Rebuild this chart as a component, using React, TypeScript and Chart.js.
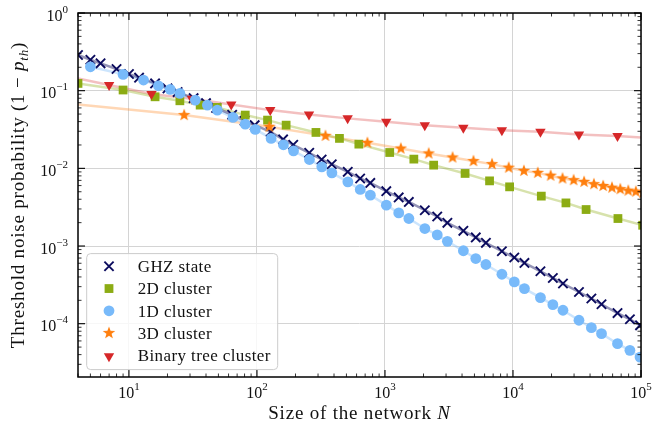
import React, { useEffect, useRef } from 'react';
import { Chart, registerables } from 'chart.js';
Chart.register(...registerables);

// ---------- data ----------
const ghzN = [4, 5, 6, 8, 10, 12, 16, 20, 24, 32, 40, 48, 64, 80, 96, 128, 160, 192, 256, 320, 384, 512, 640, 768, 1024, 1280, 1536, 2048, 2560, 3072, 4096, 5120, 6144, 8192, 10240, 12288, 16384, 20480, 24576, 32768, 40960, 49152, 65536, 81920, 98304];
const ghzP = [0.288, 0.25, 0.225, 0.19, 0.164, 0.147, 0.124, 0.107, 0.096, 0.08, 0.069, 0.06, 0.049, 0.041, 0.036, 0.0295, 0.0236, 0.0201, 0.01584, 0.013, 0.0113, 0.00901, 0.00741, 0.0065, 0.00508, 0.00422, 0.0037, 0.00289, 0.0024, 0.00199, 0.00157, 0.00129, 0.0011, 0.000857, 0.000711, 0.000606, 0.000473, 0.000388, 0.000329, 0.000256, 0.000211, 0.000178, 0.000137, 0.000114, 0.0000953];

const twoDN = [4, 9, 16, 25, 36, 49, 81, 121, 169, 289, 441, 625, 1089, 1681, 2401, 4225, 6561, 9409, 16641, 25921, 37249, 66049, 103041];
const twoDP = [0.124, 0.102, 0.0834, 0.0741, 0.0652, 0.0609, 0.0485, 0.0418, 0.036, 0.029, 0.0243, 0.0205, 0.016, 0.01315, 0.011, 0.0086, 0.0069, 0.00578, 0.00439, 0.00359, 0.00295, 0.00226, 0.00185];

const oneDN = [5, 9, 13, 17, 21, 25, 33, 41, 49, 65, 81, 97, 129, 161, 193, 257, 321, 385, 513, 641, 769, 1025, 1281, 1537, 2049, 2561, 3073, 4097, 5121, 6145, 8193, 10241, 12289, 16385, 20481, 24577, 32769, 40961, 49153, 65537, 81921, 98305];
const oneDP = [0.203, 0.162, 0.137, 0.1156, 0.104, 0.0923, 0.0757, 0.0652, 0.0562, 0.0453, 0.0371, 0.0317, 0.0243, 0.0201, 0.0168, 0.013, 0.01045, 0.00875, 0.0067, 0.00535, 0.00452, 0.00336, 0.00267, 0.00226, 0.00168, 0.00139, 0.00115, 0.00087, 0.00069, 0.000578, 0.000433, 0.000345, 0.000283, 0.000217, 0.000176, 0.000149, 0.0001107, 0.000089, 0.0000745, 0.0000553, 0.0000454, 0.0000372];

const threeDN = [27, 125, 343, 729, 1331, 2197, 3375, 4913, 6859, 9261, 12167, 15625, 19683, 24389, 29791, 35937, 42875, 50653, 59319, 68921, 79507, 91125, 103823];
const threeDP = [0.0485, 0.0343, 0.0262, 0.0213, 0.018, 0.01555, 0.0138, 0.0124, 0.01133, 0.0102, 0.00929, 0.00875, 0.00805, 0.00741, 0.00705, 0.0067, 0.00626, 0.00593, 0.00564, 0.0054, 0.00516, 0.00501, 0.00483];
const threeDFitStartN = [4];
const threeDFitStartP = [0.0666];

const treeN = [7, 15, 31, 63, 127, 255, 511, 1023, 2047, 4095, 8191, 16383, 32767, 65535];
const treeP = [0.118, 0.0904, 0.0787, 0.0662, 0.0562, 0.0495, 0.044, 0.0397, 0.036, 0.0333, 0.031, 0.0295, 0.0273, 0.026];
const treeFitStartN = [4];
const treeFitStartP = [0.144];
const treeFitEndN = [100000];
const treeFitEndP = [0.0249];

const seriesLabels = ['GHZ state', '2D cluster', '1D cluster', '3D cluster', 'Binary tree cluster'];

const X_MIN = 4;
const X_MAX = 1e5;
const Y_MIN = 2.06e-5;
const Y_MAX = 1;
const xMajor = [10, 100, 1000, 10000, 100000];
const xMajorExp = ['1', '2', '3', '4', '5'];
const yMajor = [1, 0.1, 0.01, 0.001, 0.0001];
const yMajorExp = ['0', '\u22121', '\u22122', '\u22123', '\u22124'];

const xTitle = 'Size of the network ';
const xTitleVar = 'N';
const yTitle = 'Threshold noise probability (1 \u2212 ';
const yTitleVar = 'p';
const yTitleSub = 'th';
const yTitleEnd = ')';

// ---------- styles ----------
const SERIF = '"Liberation Serif", "Times New Roman", serif';
const C_GHZ = '#0b0b5e';
const C_2D = '#8cac14';
const C_1D = '#78bafa';
const C_3D = '#ff7f0e';
const C_TREE = '#d62728';

function pts(n: number[], p: number[]) {
  return n.map((x, i) => ({ x, y: p[i] }));
}

function makeStar(color: string, outer: number, inner: number) {
  const size = Math.ceil(outer * 2) + 2;
  const c = document.createElement('canvas');
  c.width = size;
  c.height = size;
  const g = c.getContext('2d')!;
  g.translate(size / 2, size / 2);
  g.beginPath();
  for (let i = 0; i < 10; i++) {
    const r = i % 2 === 0 ? outer : inner;
    const a = -Math.PI / 2 + (i * Math.PI) / 5;
    g.lineTo(r * Math.cos(a), r * Math.sin(a));
  }
  g.closePath();
  g.fillStyle = color;
  g.fill();
  return c;
}

type Run = { t: string; font: string; dy?: number };

function drawRuns(ctx: CanvasRenderingContext2D, runs: Run[], x: number, y: number, align: 'left' | 'center' | 'right', spacing = '0px') {
  (ctx as any).letterSpacing = spacing;
  ctx.textAlign = 'left';
  ctx.textBaseline = 'alphabetic';
  let total = 0;
  const widths = runs.map((r) => {
    ctx.font = r.font;
    const w = ctx.measureText(r.t).width;
    total += w;
    return w;
  });
  let cx = align === 'left' ? x : align === 'center' ? x - total / 2 : x - total;
  runs.forEach((r, i) => {
    ctx.font = r.font;
    ctx.fillText(r.t, cx, y + (r.dy || 0));
    cx += widths[i];
  });
  (ctx as any).letterSpacing = '0px';
}

function makeDecor(star: HTMLCanvasElement) {
  return {
    id: 'decor',
    afterDraw(chart: any) {
      const ctx: CanvasRenderingContext2D = chart.ctx;
      const a = chart.chartArea;
      const xs = chart.scales.x;
      const ys = chart.scales.y;
      ctx.save();
      ctx.strokeStyle = '#000';
      ctx.fillStyle = '#111';
      const line = (x1: number, y1: number, x2: number, y2: number, w: number) => {
        ctx.lineWidth = w;
        ctx.beginPath();
        ctx.moveTo(x1, y1);
        ctx.lineTo(x2, y2);
        ctx.stroke();
      };
      // x ticks (inward, bottom & top)
      for (let d = 0; d <= 5; d++) {
        for (let m = 1; m <= 9; m++) {
          const v = m * Math.pow(10, d);
          if (v < X_MIN || v > X_MAX * 1.0001) continue;
          const px = xs.getPixelForValue(v);
          const len = m === 1 ? 7 : 3.5;
          const w = m === 1 ? 1.1 : 0.8;
          line(px, a.bottom, px, a.bottom - len, w);
          line(px, a.top, px, a.top + len, w);
        }
      }
      // y ticks (inward, left & right)
      for (let d = -5; d <= 0; d++) {
        for (let m = 1; m <= 9; m++) {
          const v = m * Math.pow(10, d);
          if (v < Y_MIN || v > Y_MAX * 1.0001) continue;
          const py = ys.getPixelForValue(v);
          const len = m === 1 ? 7 : 3.5;
          const w = m === 1 ? 1.1 : 0.8;
          line(a.left, py, a.left + len, py, w);
          line(a.right, py, a.right - len, py, w);
        }
      }
      // frame
      ctx.lineWidth = 1.5;
      ctx.strokeRect(a.left, a.top, a.right - a.left, a.bottom - a.top);

      // tick labels
      const big = `16px ${SERIF}`;
      const small = `11px ${SERIF}`;
      xMajor.forEach((v, i) => {
        const px = xs.getPixelForValue(v);
        drawRuns(ctx, [{ t: '10', font: big }, { t: xMajorExp[i], font: small, dy: -8 }], px, a.bottom + 20.5, 'center');
      });
      yMajor.forEach((v, i) => {
        const py = ys.getPixelForValue(v);
        drawRuns(ctx, [{ t: '10', font: big }, { t: yMajorExp[i], font: small, dy: -8 }], a.left - 10, py + 7.5, 'right');
      });

      // axis titles
      const tf = `19px ${SERIF}`;
      const tfi = `italic 19px ${SERIF}`;
      drawRuns(ctx, [{ t: xTitle, font: tf }, { t: xTitleVar, font: tfi }], (a.left + a.right) / 2, a.bottom + 41.5, 'center', '0.8px');
      ctx.save();
      ctx.translate(24, (a.top + a.bottom) / 2);
      ctx.rotate(-Math.PI / 2);
      drawRuns(ctx, [
        { t: yTitle, font: tf },
        { t: yTitleVar, font: tfi },
        { t: yTitleSub, font: `italic 13px ${SERIF}`, dy: 4 },
        { t: yTitleEnd, font: tf },
      ], 0, 0, 'center', '0.8px');
      ctx.restore();

      // legend
      const lx = a.left + 8.7;
      const lh = 116;
      const ly = a.bottom - 7.4 - lh;
      const lw = 191;
      ctx.beginPath();
      (ctx as any).roundRect(lx, ly, lw, lh, 4);
      ctx.fillStyle = 'rgba(255,255,255,0.8)';
      ctx.fill();
      ctx.strokeStyle = '#cccccc';
      ctx.lineWidth = 1;
      ctx.stroke();
      const kinds = ['x', 'sq', 'ci', 'st', 'tr'];
      const cols = [C_GHZ, C_2D, C_1D, C_3D, C_TREE];
      seriesLabels.forEach((lab, i) => {
        const ry = ly + 12.7 + i * 22.25;
        const mx = lx + 22.3;
        ctx.fillStyle = cols[i];
        ctx.strokeStyle = cols[i];
        const k = kinds[i];
        if (k === 'x') {
          const s = 4.6;
          ctx.lineWidth = 1.9;
          ctx.beginPath();
          ctx.moveTo(mx - s, ry - s); ctx.lineTo(mx + s, ry + s);
          ctx.moveTo(mx - s, ry + s); ctx.lineTo(mx + s, ry - s);
          ctx.stroke();
        } else if (k === 'sq') {
          ctx.fillRect(mx - 4.4, ry - 4.4, 8.8, 8.8);
        } else if (k === 'ci') {
          ctx.beginPath(); ctx.arc(mx, ry, 5.4, 0, Math.PI * 2); ctx.fill();
        } else if (k === 'st') {
          ctx.drawImage(star, mx - star.width / 2, ry - star.height / 2);
        } else {
          const r = 6;
          ctx.beginPath();
          for (let j = 0; j < 3; j++) {
            const ang = Math.PI / 2 + (j * 2 * Math.PI) / 3;
            ctx.lineTo(mx + r * Math.cos(ang), ry + 1 + r * Math.sin(ang));
          }
          ctx.closePath();
          ctx.fill();
        }
        ctx.fillStyle = '#111';
        drawRuns(ctx, [{ t: lab, font: `17px ${SERIF}` }], lx + 51, ry + 5.8, 'left', '0.4px');
      });
      ctx.restore();
    },
  };
}

export default function App() {
  const ref = useRef<HTMLCanvasElement | null>(null);
  useEffect(() => {
    document.body.style.margin = '0';
    document.body.style.overflow = 'hidden';
    const canvas = ref.current!;
    const star = makeStar(C_3D, 6.6, 2.7);
    const lineDs = (data: any[], color: string, order: number) => ({
      data,
      showLine: true,
      borderColor: color,
      borderWidth: 2.5,
      pointRadius: 0,
      tension: 0,
      order,
    });
    const datasets: any[] = [
      // trend lines (drawn under every marker)
      lineDs(pts(ghzN, ghzP), 'rgba(0,0,80,0.42)', 10),
      lineDs(pts(twoDN, twoDP), 'rgba(141,172,17,0.35)', 11),
      lineDs(pts(oneDN, oneDP), 'rgba(120,186,250,0.38)', 12),
      lineDs([...pts(threeDFitStartN, threeDFitStartP), ...pts(threeDN, threeDP)], 'rgba(255,150,60,0.38)', 13),
      lineDs([...pts(treeFitStartN, treeFitStartP), ...pts(treeN, treeP), ...pts(treeFitEndN, treeFitEndP)], 'rgba(224,90,90,0.38)', 14),
      // markers
      {
        label: seriesLabels[0], data: pts(ghzN, ghzP), showLine: false,
        pointStyle: 'crossRot', pointRadius: 6.6, pointBorderWidth: 1.9,
        pointBorderColor: C_GHZ, pointBackgroundColor: C_GHZ, order: 4,
      },
      {
        label: seriesLabels[1], data: pts(twoDN, twoDP), showLine: false,
        pointStyle: 'rect', pointRadius: 6.2, pointBorderWidth: 0,
        pointBackgroundColor: C_2D, pointBorderColor: C_2D, order: 3,
      },
      {
        label: seriesLabels[2], data: pts(oneDN, oneDP), showLine: false,
        pointStyle: 'circle', pointRadius: 5.4, pointBorderWidth: 0,
        pointBackgroundColor: C_1D, pointBorderColor: C_1D, order: 0,
      },
      {
        label: seriesLabels[3], data: pts(threeDN, threeDP), showLine: false,
        pointStyle: star, pointRadius: 6.6, pointBorderWidth: 0, order: 2,
      },
      {
        label: seriesLabels[4], data: pts(treeN, treeP), showLine: false,
        pointStyle: 'triangle', pointRotation: 180, pointRadius: 6, pointBorderWidth: 0,
        pointBackgroundColor: C_TREE, pointBorderColor: C_TREE, order: 1,
      },
    ];
    const chart = new Chart(canvas, {
      type: 'scatter',
      data: { datasets },
      options: {
        animation: false,
        responsive: false,
        events: [],
        layout: { padding: { left: 78, right: 14, top: 13, bottom: 51 } },
        plugins: { legend: { display: false }, tooltip: { enabled: false } },
        scales: {
          x: {
            type: 'logarithmic', min: X_MIN, max: X_MAX,
            ticks: { display: false },
            grid: { color: '#d4d4d4', lineWidth: 1, drawTicks: false },
            border: { display: false },
            afterBuildTicks: (s: any) => { s.ticks = xMajor.map((v) => ({ value: v })); },
          },
          y: {
            type: 'logarithmic', min: Y_MIN, max: Y_MAX,
            ticks: { display: false },
            grid: { color: '#d4d4d4', lineWidth: 1, drawTicks: false },
            border: { display: false },
            afterBuildTicks: (s: any) => { s.ticks = yMajor.map((v) => ({ value: v })); },
          },
        },
      } as any,
      plugins: [makeDecor(star)],
    });
    return () => chart.destroy();
  }, []);
  return (
    <div style={{ width: 655, height: 428 }}>
      <canvas ref={ref} width={655} height={428} style={{ display: 'block' }} />
    </div>
  );
}
